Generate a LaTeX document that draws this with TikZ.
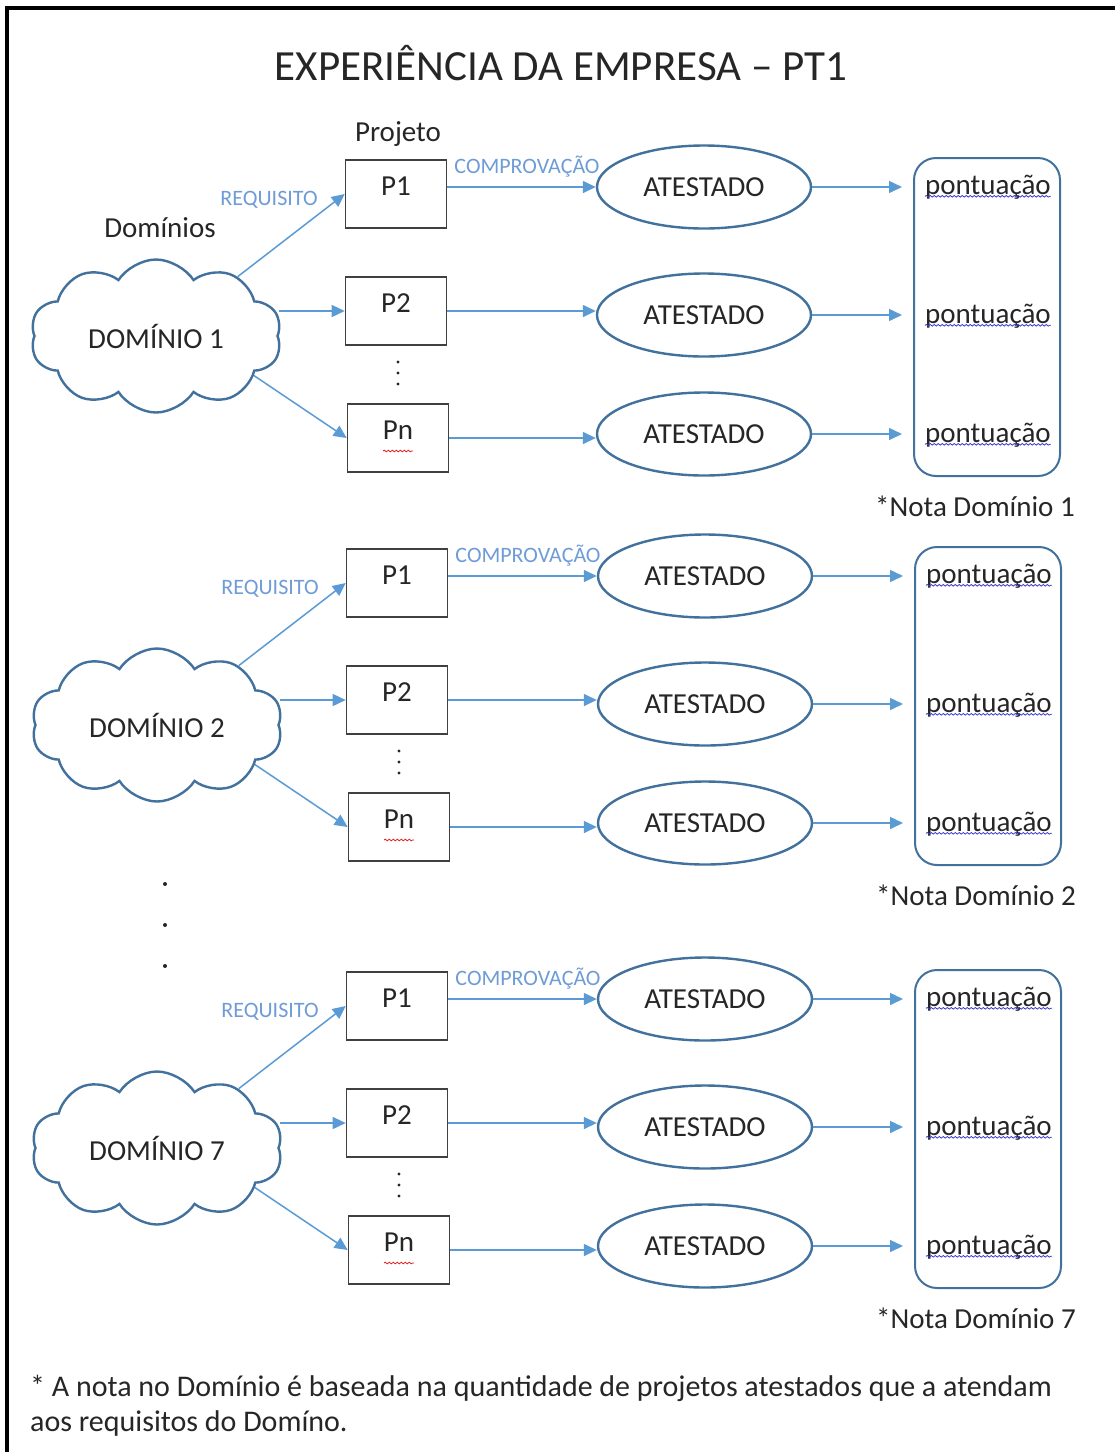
\documentclass[tikz,border=0pt]{standalone}
\usepackage{fontspec}
\setmainfont{Carlito}
\usetikzlibrary{shapes.symbols,shapes.geometric,arrows.meta,decorations.pathmorphing}
\definecolor{arrowblue}{HTML}{5B9BD5}
\definecolor{lineblue}{HTML}{41719C}
\definecolor{labelblue}{HTML}{6F9CD6}
\definecolor{textdark}{HTML}{262626}
\definecolor{spellblue}{HTML}{3C3CD0}
\definecolor{spellred}{HTML}{E02020}
\begin{document}
\begin{tikzpicture}[x=1pt,y=-1pt,
  every node/.style={text=textdark},
  base/.style={font=\fontsize{29}{34}\selectfont},
  projbox/.style={base, draw=black!75, line width=1.6pt, minimum width=101pt, minimum height=68pt, inner sep=0pt, text height=0.7em, text depth=0.45em},
  atest/.style={base, ellipse, draw=lineblue, line width=2.4pt, minimum width=214pt, minimum height=83pt, inner sep=0pt},
  dom/.style={base, cloud, cloud puffs=10, cloud puff arc=115, aspect=1.64, draw=lineblue, line width=2.4pt, minimum width=251pt, minimum height=153pt, inner sep=0pt},
  conn/.style={draw=arrowblue, line width=1.5pt, -{Triangle[length=13pt,width=12pt]}},
  lbl/.style={font=\fontsize{22}{26}\selectfont, text=labelblue, inner sep=0pt},
  scorebox/.style={draw=lineblue, line width=2pt, rounded corners=22pt, minimum width=146pt, minimum height=318pt, inner sep=0pt},
  score/.style={base, inner sep=0pt},
  wavy/.style={decorate, decoration={snake, amplitude=0.8pt, segment length=4pt}, line width=0.8pt},
  foot/.style={anchor=west, font=\fontsize{30}{36}\selectfont, inner sep=0pt},
]
\useasboundingbox (0,0) rectangle (1115,1452);
\fill[white] (0,0) rectangle (1115,1452);
% frame
\draw[line width=4pt, black] (7,1452) -- (7,8) -- (1115,8);
% title and headers
\node[font=\fontsize{43}{50}\selectfont] (title) at (561,63) {EXPERIÊNCIA DA EMPRESA – PT1};
\node[base] (dominios) at (160,228) {Domínios};
\node[base] (projeto) at (398,134) {Projeto};

\foreach \dy/\dx/\n in {0/0/1, 389/1/2, 812/1/7} {
  \begin{scope}[shift={(\dx,\dy)}]
    \node[dom] (d\n) at (156,336) {DOMÍNIO \n};
    \node[projbox] (pa\n) at (396,194) {P1};
    \node[projbox] (pb\n) at (396,311) {P2};
    \node[projbox] (pc\n) at (398,438) {Pn};
    \draw[wavy, spellred] ([xshift=-15pt,yshift=-13pt]pc\n.center) -- ([xshift=15pt,yshift=-13pt]pc\n.center);
    \fill[textdark] (398,362) circle (1.7) (398,373) circle (1.7) (398,384) circle (1.7);
    \node[atest] (ea\n) at (704,187) {ATESTADO};
    \node[atest] (eb\n) at (704,315) {ATESTADO};
    \node[atest] (ec\n) at (704,434) {ATESTADO};
    \node[scorebox] (sb\n) at (987,317) {};
    \node[score] (sa\n) at (988,187) {pontuação};
    \node[score] (sbb\n) at (988,316) {pontuação};
    \node[score] (sc\n) at (988,435) {pontuação};
    \foreach \s in {sa\n,sbb\n,sc\n} {
      \draw[wavy, spellblue] ([yshift=3pt]\s.south west) -- ([yshift=3pt]\s.south east);
    }
    \node[base] (nt\n) at (975,506) {*Nota Domínio \n};
    \node[lbl] (cl\n) at (527,167) {COMPROVAÇÃO};
    \node[lbl] (rl\n) at (269,200) {REQUISITO};
    % connectors
    \draw[conn] (d\n.36) -- (pa\n.west);
    \draw[conn] (pb\n.west -| d\n.east) -- (pb\n.west);
    \draw[conn] (d\n.-22) -- (pc\n.west);
    \draw[conn] (pa\n.east |- ea\n) -- (ea\n.west);
    \draw[conn] (pb\n.east) -- (pb\n.east -| eb\n.west);
    \draw[conn] (pc\n.east) -- (pc\n.east -| ec\n.west);
    \draw[conn, shorten >=11pt] (ea\n) -- (ea\n -| sb\n.west);
    \draw[conn, shorten >=11pt] (eb\n) -- (eb\n -| sb\n.west);
    \draw[conn, shorten >=11pt] (ec\n) -- (ec\n -| sb\n.west);
  \end{scope}
}
% dots between sections
\fill[textdark] (165,884) circle (2) (165,925) circle (2) (165,966) circle (2);
% footnote
\node[foot] (fn1) at (30,1388) {* A nota no Domínio é baseada na quantidade de projetos atestados que a atendam};
\node[foot] (fn2) at (30,1423) {aos requisitos do Domíno.};
\end{tikzpicture}
\end{document}
